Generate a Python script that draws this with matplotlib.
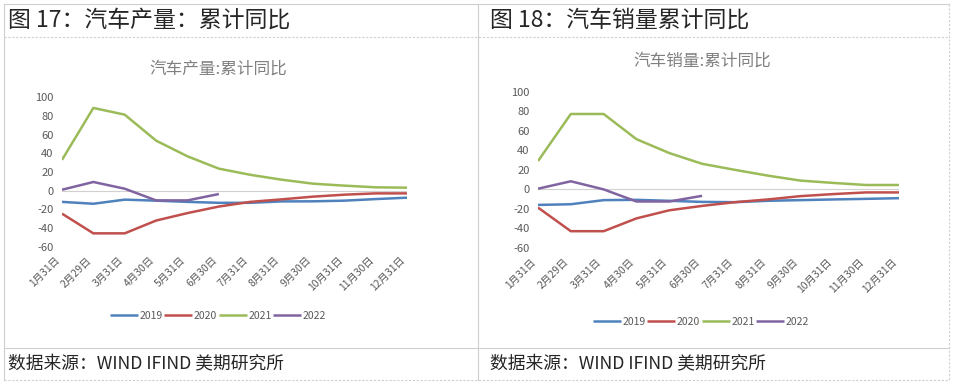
import matplotlib
matplotlib.use("Agg")
import matplotlib.pyplot as plt

plt.rcParams['font.family'] = ['Noto Sans CJK SC', 'DejaVu Sans']
plt.rcParams['axes.unicode_minus'] = False

months = ["1月31日", "2月29日", "3月31日", "4月30日", "5月31日", "6月30日",
          "7月31日", "8月31日", "9月30日", "10月31日", "11月30日", "12月31日"]
years = ["2019", "2020", "2021", "2022"]
colors = ["#4F81BD", "#C0504D", "#9BBB59", "#8064A2"]

# 汽车产量 累计同比 (%)
prod_2019 = [-12, -14, -9.6, -10.7, -12, -13, -13, -11.5, -11.4, -10.7, -9, -7.5]
prod_2020 = [-24.6, -45.7, -45.7, -32, -24, -17, -12, -9.3, -6.4, -4.3, -2.9, -2.9]
prod_2021 = [33, 88.6, 81.4, 53.6, 36.8, 23.6, 17, 11.8, 7.5, 5.4, 3.6, 3.2]
prod_2022 = [1, 9.3, 2.1, -10.4, -10.4, -3.6]

# 汽车销量 累计同比 (%)
sales_2019 = [-15.9, -15.2, -11, -10.7, -11.7, -12.8, -13.1, -11.7, -11, -10.3, -9.7, -9]
sales_2020 = [-18.6, -42.8, -42.8, -29.7, -21.4, -16.9, -13.1, -10.3, -6.9, -4.8, -3.1, -3.1]
sales_2021 = [29, 77.2, 77.2, 51.4, 37.2, 26.2, 20, 14.1, 9, 6.6, 4.5, 4.5]
sales_2022 = [0.7, 8.3, 0, -12.4, -12.4, -6.6]

W, H = 954, 388
fig = plt.figure(figsize=(W / 100, H / 100), dpi=100)

# background frame in pixel coordinates
bg = fig.add_axes([0, 0, 1, 1], zorder=0)
bg.set_xlim(0, W)
bg.set_ylim(H, 0)
bg.axis("off")
frame = "#cfcfcf"
bg.plot([4.5, 949], [3.5, 3.5], color=frame, lw=0.8)
bg.plot([4.5, 4.5], [3.5, 380], color=frame, lw=0.8)
bg.plot([949, 949], [3.5, 380], color=frame, lw=0.8, ls=(0, (2, 1.5)))
bg.plot([4.5, 949], [37, 37], color=frame, lw=0.8, ls=(0, (2, 1.5)))
bg.plot([478, 478], [3.5, 380], color=frame, lw=0.8)
bg.plot([4.5, 949], [348, 348], color=frame, lw=0.8)
bg.plot([4.5, 949], [380, 380], color=frame, lw=0.8, ls=(0, (2, 1.5)))

bg.text(8, 20, "图 17：汽车产量：累计同比", fontsize=16.5, color="#262626", va="center")
bg.text(490, 20, "图 18：汽车销量累计同比", fontsize=16.5, color="#262626", va="center")
bg.text(8, 364, "数据来源：WIND IFIND 美期研究所", fontsize=12.8, color="#262626", va="center")
bg.text(490, 364, "数据来源：WIND IFIND 美期研究所", fontsize=12.8, color="#262626", va="center")


def draw_panel(px_left, px_right, px_top, px_bottom, series, title, title_xy, legend_xy):
    ax = fig.add_axes([px_left / W, 1 - px_bottom / H,
                       (px_right - px_left) / W, (px_bottom - px_top) / H], zorder=2)
    ax.patch.set_alpha(0)
    ax.axhline(0, color="#d0d0d0", lw=0.8, zorder=1)
    for name, vals, c in zip(years, series, colors):
        ax.plot(range(len(vals)), vals, color=c, lw=1.8, label=name,
                solid_capstyle="butt", zorder=3)
    ax.set_xlim(0, len(months) - 1)
    ax.set_ylim(-60, 100)
    ax.set_yticks(range(-60, 101, 20))
    ax.set_xticks(range(len(months)))
    ax.set_xticklabels(months, rotation=45, ha="right")
    ax.tick_params(axis="y", length=0, pad=6, labelsize=8, labelcolor="#595959")
    ax.tick_params(axis="x", length=0, pad=6, labelsize=7.5, labelcolor="#595959")
    for s in ax.spines.values():
        s.set_visible(False)
    bg.text(title_xy[0], title_xy[1], title, fontsize=12, color="#808080",
            ha="center", va="center")
    ax.legend(loc="center", bbox_to_anchor=legend_xy, bbox_transform=bg.transData,
              ncol=4, frameon=False, fontsize=7.5, handlelength=2.7,
              handletextpad=0.15, columnspacing=0.15, labelcolor="#595959")
    return ax


draw_panel(62, 407, 97.3, 246.7, [prod_2019, prod_2020, prod_2021, prod_2022],
           "汽车产量:累计同比", (218, 69), (218, 316))
draw_panel(538, 899, 91.7, 248, [sales_2019, sales_2020, sales_2021, sales_2022],
           "汽车销量:累计同比", (702, 61), (701, 322))

fig.savefig("out.png", dpi=100)
